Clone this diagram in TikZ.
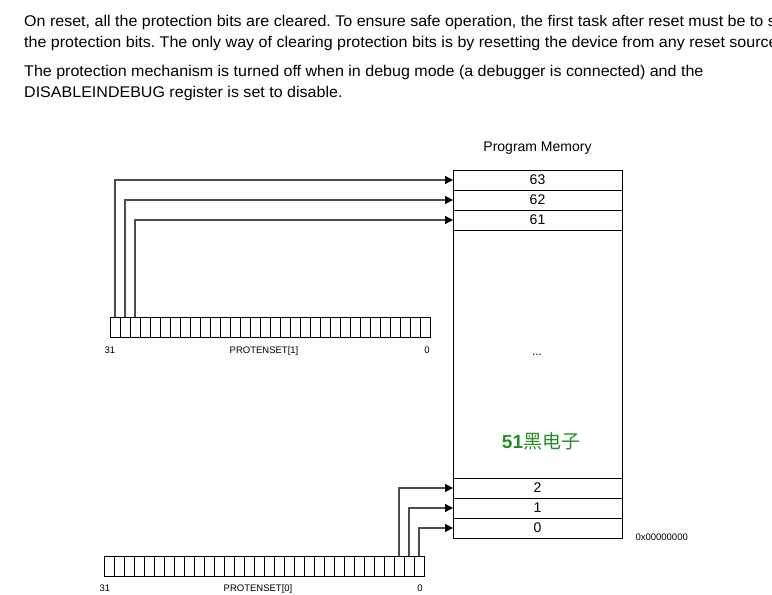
\documentclass[tikz,border=0pt]{standalone}
\usepackage{fontspec}
\setmainfont{Liberation Sans}
\newfontfamily\bodyfont[FakeStretch=1.035]{Liberation Sans}
\newfontfamily\cjk{Noto Sans CJK SC}
\usetikzlibrary{arrows.meta, positioning, calc}
\definecolor{logogreen}{RGB}{40,140,40}

\begin{document}
\begin{tikzpicture}[x=1pt, y=-1pt,
		bitcell/.style={draw, line width=0.8pt, minimum width=10pt, minimum height=20pt, inner sep=0pt, outer sep=0pt},
		memrow/.style={draw, line width=0.8pt, minimum width=169pt, minimum height=20pt, inner sep=0pt, outer sep=0pt, font=\fontsize{14}{16}\selectfont},
		reglabel/.style={font=\fontsize{9.5}{11}\selectfont, anchor=base, inner sep=0pt},
		wire/.style={-{Triangle[length=8pt,width=8pt,color=black]}, black!70, line width=1.2pt},
		bodytext/.style={anchor=base west, inner sep=0pt, font=\bodyfont\fontsize{15.5}{18}\selectfont\frenchspacing}]
	\useasboundingbox (0,0) rectangle (772,595);
	
	% Text above the figure
	\begin{scope}
		\clip (0,0) rectangle (772,595);
		\node[bodytext] (t1) at (24,26) {On reset, all the protection bits are cleared. To ensure safe operation, the first task after reset must be to set};
		\node[bodytext] (t2) at (24,47) {the protection bits. The only way of clearing protection bits is by resetting the device from any reset source.};
		\node[bodytext] (t3) at (24,76) {The protection mechanism is turned off when in debug mode (a debugger is connected) and the};
		\node[bodytext] (t4) at (24,97) {DISABLEINDEBUG register is set to disable.};
	\end{scope}
	
	% Program memory
	\node[draw, line width=0.8pt, minimum width=169pt, minimum height=368pt, inner sep=0pt, outer sep=0pt, anchor=north west] (mem) at (453,170) {};
	\node[font=\fontsize{14}{16}\selectfont, above=12pt of mem.north] (memtitle) {Program Memory};
	\node[memrow, anchor=north west] (r63) at (mem.north west) {63};
	\node[memrow, below=0pt of r63] (r62) {62};
	\node[memrow, below=0pt of r62] (r61) {61};
	\node[memrow, anchor=south west] (r0) at (mem.south west) {0};
	\node[memrow, above=0pt of r0] (r1) {1};
	\node[memrow, above=0pt of r1] (r2) {2};
	\node[font=\fontsize{12}{14}\selectfont] (dots) at (537,355) {...};
	\node[text=logogreen, font=\fontsize{19}{22}\selectfont] (logo) at (541,441) {\textbf{51}{\cjk 黑电子}};
	\node[font=\fontsize{9.5}{11}\selectfont, anchor=west] (addr) at (632,537) {0x00000000};
	
	% Registers
	\foreach \i in {0,...,31} {
		\node[bitcell, anchor=north west] (a\i) at ({420-10*\i},317) {};
		\node[bitcell, anchor=north west] (b\i) at ({414-10*\i},556) {};
	}
	\node[reglabel] (a31lbl) at ($(a31.south west)+(0,16)$) {31};
	\node[reglabel] (a0lbl) at ($(a0.south east)+(-3,16)$) {0};
	\node[reglabel] (aname) at (264,353) {PROTENSET[1]};
	\node[reglabel] (b31lbl) at ($(b31.south west)+(1,15)$) {31};
	\node[reglabel] (b0lbl) at ($(b0.south east)+(-4,15)$) {0};
	\node[reglabel] (bname) at (258,591) {PROTENSET[0]};
	
	% Bit to row connections
	\draw[wire] (a31.north) |- (r63.west);
	\draw[wire] (a30.north) |- (r62.west);
	\draw[wire] (a29.north) |- (r61.west);
	\draw[wire] (b2.north) |- (r2.west);
	\draw[wire] (b1.north) |- (r1.west);
	\draw[wire] (b0.north) |- (r0.west);
	
\end{tikzpicture}
\end{document}
